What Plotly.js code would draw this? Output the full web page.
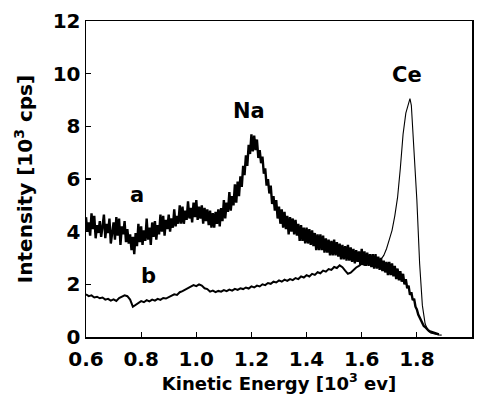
<!DOCTYPE html>
<html>
<head>
<meta charset="utf-8">
<script src="https://cdn.plot.ly/plotly-3.0.1.min.js"></script>
<style>html,body{margin:0;padding:0;background:#fff;}</style>
</head>
<body>
<div id="chart" style="width:489px;height:406px;"></div>
<script>
// Curve a: noisy spectrum, sampled from 0.600 to 1.880 in 0.005 steps
const aStart = 0.6;
const aStep = 0.005;
const aValues = [
  4.55, 4.0, 4.35, 3.85, 4.7, 4.1, 4.6, 3.75, 4.25, 3.95,
  4.4, 3.8, 4.2, 4.65, 3.75, 4.3, 3.95, 4.5, 3.55, 4.1,
  4.35, 3.7, 4.55, 3.85, 4.5, 3.5, 4.2, 3.9, 4.4, 3.6,
  4.1, 3.55, 3.9, 3.3, 3.8, 3.15, 3.95, 3.45, 4.3, 3.6,
  4.2, 3.5, 4.05, 3.65, 4.5, 3.7, 4.15, 3.5, 4.35, 3.8,
  4.4, 3.7, 4.25, 3.9, 4.65, 4.0, 4.6, 3.85, 4.45, 4.1,
  4.65, 4.0, 4.5, 4.15, 4.85, 4.2, 4.6, 4.3, 5.0, 4.3,
  4.95, 4.3, 4.8, 4.45, 5.15, 4.5, 4.9, 4.35, 5.1, 4.55,
  5.2, 4.45, 4.95, 4.5, 5.0, 4.3, 4.9, 4.4, 4.85, 4.25,
  4.8, 4.15, 4.7, 4.15, 4.75, 4.3, 4.85, 4.2, 4.9, 4.4,
  5.2, 4.5, 5.1, 4.75, 5.5, 4.8, 5.35, 5.0, 5.8, 5.1,
  5.9, 5.35, 6.1, 5.7, 6.5, 6.15, 6.9, 6.5, 7.3, 6.95,
  7.7, 7.05, 7.65, 7.1, 7.5, 6.8, 7.1, 6.6, 6.85, 6.2,
  6.4, 5.75, 6.0, 5.45, 5.75, 5.05, 5.35, 4.8, 5.2, 4.5,
  4.95, 4.3, 4.85, 4.15, 4.75, 4.1, 4.6, 3.9, 4.55, 4.0,
  4.5, 3.9, 4.45, 3.85, 4.3, 3.65, 4.25, 3.65, 4.15, 3.55,
  4.15, 3.55, 4.1, 3.5, 4.05, 3.45, 3.95, 3.3, 3.9, 3.3,
  3.9, 3.3, 3.85, 3.2, 3.75, 3.2, 3.7, 3.1, 3.65, 3.1,
  3.7, 3.1, 3.6, 3.05, 3.55, 2.95, 3.5, 2.95, 3.45, 2.9,
  3.5, 2.9, 3.4, 2.85, 3.35, 2.8, 3.3, 2.85, 3.25, 2.75,
  3.35, 2.75, 3.25, 2.7, 3.2, 2.7, 3.15, 2.65, 3.15, 2.6,
  3.15, 2.6, 3.05, 2.55, 3.0, 2.5, 2.9, 2.45, 2.85, 2.35,
  2.85, 2.35, 2.8, 2.3, 2.7, 2.2, 2.6, 2.15, 2.5, 2.1,
  2.4, 2.0, 2.2, 1.85, 1.95, 1.6, 1.7, 1.4, 1.45, 1.15,
  1.05, 0.85, 0.75, 0.6, 0.55, 0.42, 0.38, 0.3, 0.27, 0.22,
  0.2, 0.17, 0.16, 0.14, 0.13, 0.12, 0.1
];

// Curve b: lower spectrum, sampled from 0.60 to 1.66 in 0.01 steps
const bStart = 0.6;
const bStep = 0.01;
const bValues = [
  1.62, 1.55, 1.58, 1.50, 1.53, 1.47, 1.50, 1.42, 1.45, 1.38,
  1.43, 1.37, 1.48, 1.52, 1.58, 1.55, 1.42, 1.15, 1.22, 1.30,
  1.36, 1.32, 1.40, 1.35, 1.42, 1.38, 1.45, 1.41, 1.48, 1.46,
  1.52, 1.55, 1.62, 1.60, 1.70, 1.74, 1.80, 1.86, 1.90, 1.97,
  1.93, 2.00, 1.95, 1.85, 1.82, 1.72, 1.76, 1.70, 1.75, 1.72,
  1.78, 1.74, 1.80, 1.76, 1.83, 1.79, 1.85, 1.82, 1.88, 1.84,
  1.92, 1.88, 1.95, 1.92, 2.00, 1.97, 2.05, 2.02, 2.10, 2.07,
  2.15, 2.10, 2.18, 2.13, 2.20, 2.16, 2.24, 2.20, 2.30, 2.26,
  2.35, 2.30, 2.40, 2.36, 2.46, 2.42, 2.52, 2.48, 2.58, 2.55,
  2.66, 2.62, 2.72, 2.65, 2.52, 2.40, 2.44, 2.55, 2.64, 2.70,
  2.78, 2.74, 2.82, 2.78, 2.86, 2.82, 2.90
];

// Ce peak (continuation of b, thin line)
const ceX = [1.66, 1.67, 1.68, 1.69, 1.70, 1.71, 1.72, 1.73, 1.74, 1.75, 1.76, 1.77, 1.775, 1.78, 1.79, 1.80, 1.81, 1.82, 1.83, 1.84, 1.85, 1.86, 1.87, 1.88, 1.89];
const ceY = [2.9, 2.95, 3.1, 3.35, 3.7, 4.05, 4.6, 5.3, 6.4, 7.7, 8.5, 8.95, 9.05, 8.8, 7.2, 5.2, 2.8, 1.2, 0.5, 0.25, 0.15, 0.12, 0.1, 0.08, 0.07];

// Labels
const labelText = ['Na', 'Ce', 'a', 'b'];
const labelX = [1.19, 1.765, 0.785, 0.825];
const labelY = [8.6, 9.95, 5.4, 2.3];
const labelSize = [21, 21, 21, 21];

const xTicks = [0.6, 0.8, 1.0, 1.2, 1.4, 1.6, 1.8, 2.0];
const yTicks = [0, 2, 4, 6, 8, 10, 12];

const FONT = 'DejaVu Sans, Verdana, sans-serif';

const traces = [
  {x0: aStart, dx: aStep, y: aValues, type: 'scatter', mode: 'lines',
   line: {color: '#000', width: 2.4}, name: 'a', hoverinfo: 'skip'},
  {x0: bStart, dx: bStep, y: bValues, type: 'scatter', mode: 'lines',
   line: {color: '#000', width: 2.0}, name: 'b', hoverinfo: 'skip'},
  {x: ceX, y: ceY, type: 'scatter', mode: 'lines',
   line: {color: '#000', width: 1.1}, name: 'Ce', hoverinfo: 'skip'}
];

const annotations = labelText.map((t, i) => ({
  x: labelX[i], y: labelY[i], xref: 'x', yref: 'y', text: t, showarrow: false,
  font: {family: FONT, size: labelSize[i], color: '#000', weight: 'bold'}
}));

const layout = {
  width: 489, height: 406,
  margin: {l: 86, r: 17, t: 21, b: 69},
  paper_bgcolor: '#fff', plot_bgcolor: '#fff',
  showlegend: false,
  font: {family: FONT, color: '#000'},
  xaxis: {
    range: [0.6, 2.0], tickvals: xTicks, ticktext: xTicks.map(v => v.toFixed(1)),
    ticks: 'inside', ticklen: 5, tickwidth: 1.2, tickcolor: '#000',
    showline: true, linecolor: '#000', linewidth: 1.5, mirror: true,
    showgrid: false, zeroline: false, ticklabelstandoff: 3,
    tickfont: {family: FONT, size: 20, color: '#000', weight: 'bold'},
    title: {text: 'Kinetic Energy [10<sup>3</sup> ev]', standoff: 7,
            font: {family: FONT, size: 18, color: '#000', weight: 'bold'}}
  },
  yaxis: {
    range: [0, 12], tickvals: yTicks,
    ticks: 'inside', ticklen: 5, tickwidth: 1.2, tickcolor: '#000',
    showline: true, linecolor: '#000', linewidth: 1.5, mirror: true,
    showgrid: false, zeroline: false,
    tickfont: {family: FONT, size: 20, color: '#000', weight: 'bold'},
    title: {text: 'Intensity [10<sup>3</sup> cps]', standoff: 14,
            font: {family: FONT, size: 20, color: '#000', weight: 'bold'}}
  },
  annotations: annotations
};

Plotly.newPlot('chart', traces, layout, {staticPlot: true, displayModeBar: false});
</script>
</body>
</html>
